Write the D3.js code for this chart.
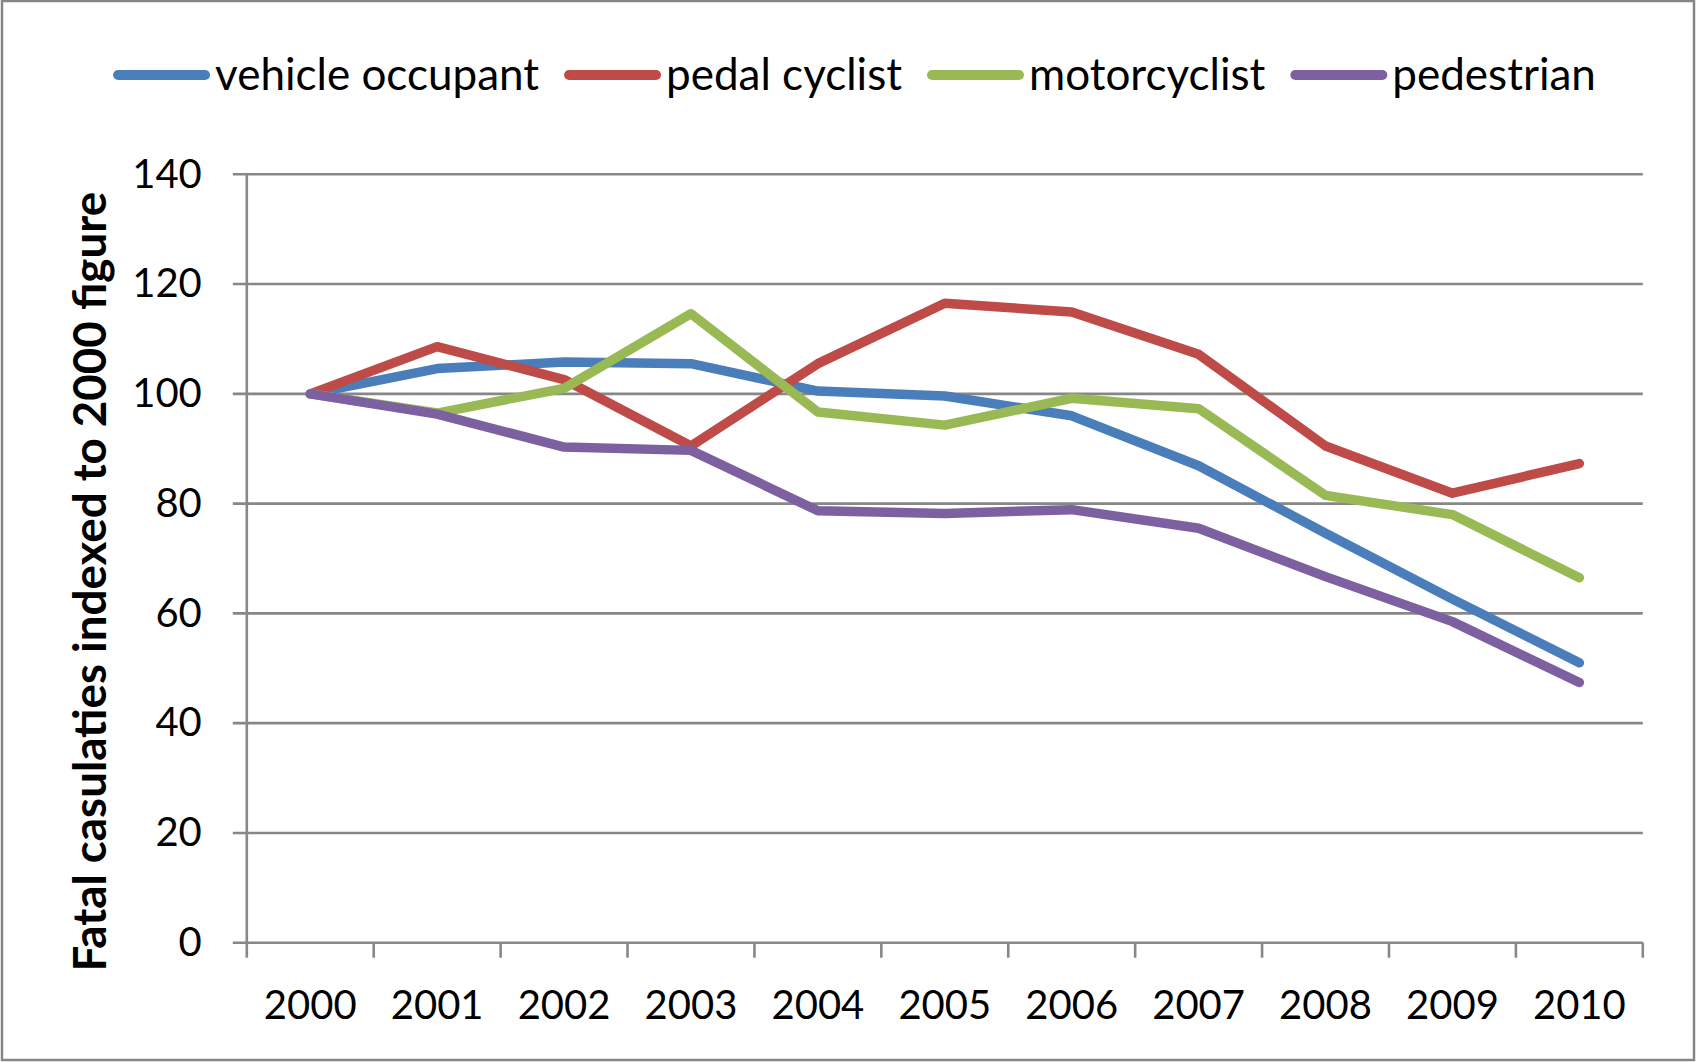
<!DOCTYPE html>
<html><head><meta charset="utf-8">
<script src="https://cdn.jsdelivr.net/npm/d3@7"></script>
<style>body{margin:0;background:#fff}svg{display:block}text{font-family:Lato,"Open Sans",sans-serif}</style>
</head><body><svg id="c" width="1696" height="1062"></svg>
<script>
const years = ["2000","2001","2002","2003","2004","2005","2006","2007","2008","2009","2010"];
const vehicleOccupant = [100,104.6,105.8,105.5,100.5,99.6,96.0,86.9,74.6,62.6,51.0];
const pedalCyclist    = [100,108.6,102.6,90.5,105.5,116.5,114.9,107.2,90.5,81.9,87.3];
const motorcyclist    = [100,96.5,101.0,114.6,96.7,94.3,99.2,97.3,81.5,78.0,66.5];
const pedestrian      = [100,96.3,90.3,89.7,78.7,78.2,78.9,75.5,66.7,58.5,47.4];
const seriesNames  = ["vehicle occupant","pedal cyclist","motorcyclist","pedestrian"];
const seriesColors = ["#4A7EBB","#BE4B48","#98B954","#7D60A0"];
const yTicks = [0,20,40,60,80,100,120,140];
const yTitle = "Fatal casulaties indexed to 2000 figure";

const seriesValues = [vehicleOccupant, pedalCyclist, motorcyclist, pedestrian];
const svg = d3.select("#c");
const L = 246.8, R = 1642.8, T = 174.3, B = 942.7;
const FS = 40;

svg.append("rect").attr("x",2).attr("y",1).attr("width",1692).attr("height",1059)
  .attr("fill","#fff").attr("stroke","#868686").attr("stroke-width",2.5);

const x = d3.scaleBand().domain(years).range([L,R]).padding(0);
const y = d3.scaleLinear().domain([0,140]).range([B,T]);
const grid = "#878787";

svg.append("g").selectAll("line").data(yTicks).join("line")
  .attr("x1",L-14).attr("x2",R).attr("y1",d=>y(d)).attr("y2",d=>y(d))
  .attr("stroke",grid).attr("stroke-width",2.6);
svg.append("line").attr("x1",L).attr("x2",L).attr("y1",T).attr("y2",B+15)
  .attr("stroke",grid).attr("stroke-width",2.6);
const bounds = years.map(d=>x(d)).concat([R]);
svg.append("g").selectAll("line").data(bounds.slice(1)).join("line")
  .attr("x1",d=>d).attr("x2",d=>d).attr("y1",B).attr("y2",B+15)
  .attr("stroke",grid).attr("stroke-width",2.6);

const ya = svg.append("g").attr("transform",`translate(${L},0)`)
  .call(d3.axisLeft(y).tickValues(yTicks).tickSize(0).tickPadding(45));
ya.select(".domain").remove();
ya.selectAll("text").attr("font-size",FS).attr("fill","#000").style("font-family","Lato");

const xa = svg.append("g").attr("transform",`translate(0,${B})`)
  .call(d3.axisBottom(x).tickSize(0).tickPadding(48));
xa.select(".domain").remove();
xa.selectAll("text").attr("font-size",FS).attr("fill","#000").style("font-family","Lato");

svg.append("text").attr("transform",`translate(106,${(191.7+971.7)/2}) rotate(-90)`)
  .attr("text-anchor","middle").attr("font-size",45.7).attr("font-weight","bold")
  .attr("fill","#000").text(yTitle);

const line = d3.line().x((d,i)=>x(years[i])+x.bandwidth()/2).y(d=>y(d));
seriesValues.forEach((vals,k)=>{
  svg.append("path").datum(vals).attr("d",line).attr("fill","none")
    .attr("stroke",seriesColors[k]).attr("stroke-width",9.5)
    .attr("stroke-linecap","round").attr("stroke-linejoin","round");
});

const lg = svg.append("g");
let cx = 0;
seriesNames.forEach((n,k)=>{
  const g = lg.append("g");
  g.append("line").attr("x1",5).attr("x2",92).attr("y1",0).attr("y2",0)
    .attr("stroke",seriesColors[k]).attr("stroke-width",10).attr("stroke-linecap","round");
  const t = g.append("text").attr("x",102).attr("y",15).attr("font-size",44).attr("fill","#000").text(n);
  const w = 102 + t.node().getComputedTextLength();
  g.attr("transform",`translate(${cx},75)`);
  cx += w + 25;
});
const total = cx - 25;
lg.attr("transform",`translate(${854.5 - total/2},0)`);
</script></body></html>
